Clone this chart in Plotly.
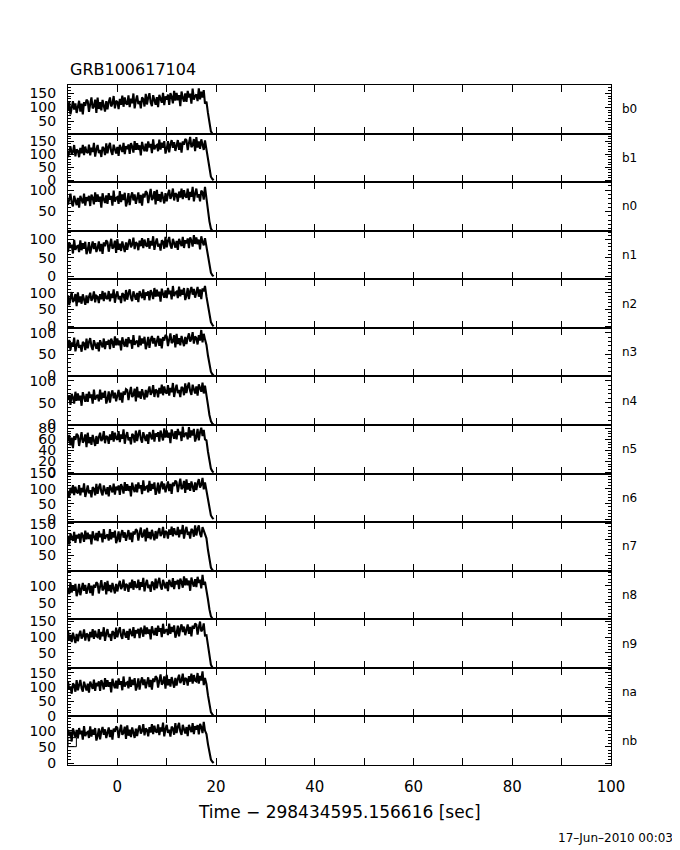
import numpy as np
import plotly.graph_objects as go
from plotly.subplots import make_subplots

# ---------------- data ----------------
detectors = ["b0", "b1", "n0", "n1", "n2", "n3", "n4", "n5", "n6", "n7", "n8", "n9", "na", "nb"]

# time bins (s, relative to trigger) for the flat part, then the end-of-data drop
t_main = np.round(np.arange(-10, 17.9, 0.25), 2)
t_drop = [18.05, 18.35, 18.65, 18.95, 19.25, 19.5]

b0 = [88, 118, 75, 106, 122, 92, 114, 80,
      98, 123, 85, 113, 75, 118, 105, 127,
      122, 84, 111, 135, 96, 103, 127, 80,
      134, 94, 118, 89, 126, 107, 85, 122,
      93, 119, 135, 103, 113, 140, 96, 123,
      119, 94, 130, 109, 141, 102, 135, 114,
      110, 142, 101, 131, 114, 149, 96, 124,
      142, 111, 123, 96, 135, 129, 103, 148,
      110, 135, 150, 117, 104, 143, 127, 109,
      136, 101, 144, 132, 116, 151, 108, 139,
      127, 145, 109, 150, 137, 114, 158, 124,
      151, 125, 143, 104, 156, 134, 120, 149,
      119, 158, 135, 148, 113, 166, 127, 140,
      146, 122, 167, 128, 155, 135, 161, 113]
b1 = [89, 115, 131, 99, 109, 136, 92, 119,
      114, 89, 125, 104, 136, 97, 130, 109,
      105, 137, 96, 126, 109, 144, 91, 119,
      136, 105, 117, 90, 129, 123, 97, 142,
      104, 129, 144, 111, 98, 137, 121, 103,
      129, 94, 137, 125, 109, 144, 101, 132,
      120, 138, 102, 143, 130, 107, 151, 117,
      143, 117, 135, 96, 148, 126, 112, 141,
      111, 150, 127, 140, 105, 158, 119, 132,
      136, 112, 157, 118, 145, 125, 151, 103,
      121, 151, 108, 139, 155, 125, 147, 113,
      130, 155, 117, 145, 107, 150, 137, 159,
      154, 116, 143, 167, 128, 135, 159, 112,
      166, 126, 150, 121, 158, 139, 117, 154]
n0 = [66, 82, 92, 70, 62, 87, 77, 65,
      82, 59, 87, 79, 69, 92, 64, 84,
      75, 87, 63, 90, 82, 67, 95, 73,
      90, 73, 85, 59, 93, 79, 70, 88,
      68, 93, 78, 87, 64, 99, 73, 82,
      84, 68, 98, 72, 90, 77, 94, 62,
      73, 93, 65, 85, 95, 76, 90, 68,
      79, 95, 70, 89, 64, 92, 83, 98,
      94, 70, 87, 103, 77, 82, 98, 67,
      101, 75, 91, 72, 96, 84, 69, 93,
      74, 91, 101, 80, 87, 104, 76, 93,
      90, 73, 97, 83, 104, 79, 100, 86,
      83, 104, 77, 96, 85, 108, 74, 92,
      104, 83, 91, 74, 99, 95, 78, 108]
n1 = [66, 93, 77, 86, 62, 99, 72, 81,
      83, 66, 98, 71, 90, 75, 94, 60,
      72, 93, 62, 84, 95, 74, 90, 66,
      77, 95, 68, 88, 61, 92, 82, 98,
      93, 67, 86, 102, 75, 80, 97, 64,
      101, 72, 89, 69, 95, 82, 66, 92,
      72, 90, 101, 79, 86, 105, 74, 93,
      89, 71, 97, 82, 104, 77, 100, 85,
      81, 104, 75, 96, 84, 109, 72, 91,
      103, 81, 89, 70, 98, 94, 75, 107,
      79, 97, 107, 84, 75, 102, 91, 78,
      96, 72, 102, 94, 82, 107, 77, 98,
      90, 103, 77, 106, 97, 81, 112, 88,
      106, 87, 100, 73, 109, 94, 84, 104]
n2 = [92, 63, 84, 102, 72, 78, 96, 60,
      101, 71, 89, 67, 95, 80, 64, 92,
      69, 88, 100, 76, 84, 104, 71, 91,
      88, 69, 96, 80, 105, 75, 100, 84,
      81, 105, 74, 97, 84, 110, 70, 92,
      104, 80, 90, 69, 99, 94, 74, 108,
      79, 98, 110, 85, 75, 104, 92, 79,
      99, 72, 105, 96, 84, 110, 78, 101,
      91, 104, 77, 108, 98, 81, 114, 88,
      109, 89, 103, 73, 112, 96, 85, 107,
      84, 114, 96, 106, 80, 120, 90, 100,
      103, 84, 118, 89, 109, 94, 114, 78,
      91, 114, 81, 105, 117, 94, 111, 85,
      98, 117, 88, 110, 81, 113, 104, 120]
n3 = [65, 84, 60, 78, 68, 89, 57, 74,
      84, 65, 72, 56, 79, 76, 60, 87,
      64, 79, 88, 68, 60, 83, 74, 63,
      78, 57, 83, 76, 66, 87, 62, 80,
      73, 84, 62, 87, 79, 65, 92, 71,
      87, 71, 82, 59, 90, 77, 68, 86,
      67, 90, 76, 84, 63, 95, 72, 79,
      82, 67, 94, 71, 87, 75, 91, 62,
      73, 91, 65, 84, 93, 75, 88, 68,
      78, 93, 70, 87, 64, 90, 82, 95,
      92, 69, 85, 99, 76, 80, 95, 66,
      98, 74, 88, 71, 93, 82, 69, 91,
      74, 89, 99, 80, 86, 102, 75, 92,
      88, 73, 95, 82, 107, 78, 98, 85]
n4 = [56, 67, 45, 70, 62, 48, 75, 54,
      71, 55, 66, 43, 74, 61, 52, 70,
      52, 75, 61, 69, 48, 80, 57, 64,
      68, 53, 80, 57, 73, 61, 77, 48,
      58, 76, 50, 69, 78, 60, 73, 53,
      64, 79, 56, 73, 50, 76, 68, 81,
      79, 56, 72, 86, 63, 67, 82, 53,
      86, 62, 76, 59, 81, 70, 57, 79,
      62, 77, 87, 68, 74, 90, 63, 80,
      77, 62, 84, 71, 91, 67, 87, 74,
      71, 90, 66, 84, 74, 95, 63, 80,
      91, 72, 79, 63, 86, 83, 67, 94,
      72, 87, 96, 76, 68, 91, 82, 71,
      87, 66, 92, 85, 75, 96, 71, 89]
n5 = [56, 68, 49, 63, 44, 66, 59, 70,
      67, 48, 61, 73, 54, 58, 69, 46,
      72, 53, 64, 50, 68, 59, 48, 66,
      52, 64, 72, 57, 61, 75, 53, 66,
      64, 52, 69, 59, 75, 56, 72, 62,
      59, 75, 55, 69, 61, 78, 52, 66,
      73, 58, 64, 51, 70, 67, 54, 76,
      57, 69, 77, 61, 54, 73, 65, 57,
      69, 52, 73, 67, 60, 77, 56, 71,
      65, 73, 56, 76, 69, 58, 80, 63,
      76, 63, 72, 53, 78, 67, 61, 75,
      60, 79, 68, 74, 57, 83, 64, 70,
      72, 60, 82, 63, 76, 67, 79, 56,
      64, 79, 58, 73, 81, 66, 77, 60]
n6 = [93, 72, 103, 85, 112, 79, 107, 89,
      85, 112, 78, 103, 89, 118, 73, 97,
      111, 85, 95, 72, 105, 100, 78, 116,
      83, 104, 117, 89, 78, 111, 98, 82,
      105, 75, 111, 101, 88, 117, 81, 107,
      95, 111, 80, 115, 104, 84, 122, 93,
      115, 93, 109, 75, 120, 101, 89, 114,
      88, 121, 101, 112, 82, 128, 94, 105,
      108, 88, 126, 93, 116, 99, 121, 80,
      95, 120, 84, 110, 124, 98, 117, 88,
      103, 124, 92, 116, 83, 120, 109, 127,
      122, 89, 112, 133, 99, 105, 126, 86,
      131, 97, 118, 93, 124, 108, 90, 121,
      96, 118, 132, 104, 113, 136, 98, 121]
n7 = [112, 84, 119, 109, 96, 124, 90, 115,
      104, 118, 89, 122, 112, 93, 128, 101,
      122, 102, 116, 85, 126, 109, 98, 121,
      95, 127, 108, 119, 91, 133, 102, 112,
      116, 97, 133, 101, 123, 107, 128, 89,
      102, 126, 92, 117, 130, 106, 123, 96,
      110, 130, 100, 122, 92, 126, 116, 133,
      128, 97, 119, 138, 107, 113, 132, 94,
      137, 105, 124, 101, 131, 115, 98, 127,
      103, 124, 136, 111, 119, 140, 105, 127,
      123, 103, 132, 115, 141, 110, 136, 119,
      115, 140, 107, 131, 118, 146, 103, 126,
      140, 115, 125, 103, 134, 129, 109, 145,
      113, 133, 145, 118, 108, 139, 126, 112]
n8 = [95, 76, 110, 81, 101, 86, 106, 70,
      83, 106, 73, 97, 109, 86, 103, 77,
      89, 108, 79, 101, 72, 104, 95, 111,
      107, 78, 99, 117, 87, 93, 111, 75,
      115, 85, 103, 81, 109, 94, 78, 106,
      84, 103, 115, 91, 99, 119, 86, 106,
      102, 83, 110, 94, 119, 89, 114, 98,
      95, 119, 88, 111, 98, 124, 84, 106,
      118, 94, 104, 83, 113, 108, 88, 122,
      93, 112, 124, 99, 89, 118, 106, 93,
      112, 85, 118, 109, 97, 123, 91, 114,
      105, 118, 91, 122, 112, 95, 128, 102,
      122, 102, 116, 86, 125, 109, 98, 120,
      97, 127, 109, 119, 93, 133, 103, 113]
n9 = [120, 88, 107, 84, 114, 98, 81, 110,
      87, 108, 120, 95, 103, 124, 89, 111,
      107, 87, 116, 99, 125, 94, 120, 103,
      100, 125, 92, 116, 103, 131, 88, 111,
      125, 100, 110, 88, 119, 114, 94, 130,
      99, 119, 131, 104, 94, 125, 112, 98,
      119, 91, 126, 116, 103, 131, 97, 122,
      112, 126, 97, 130, 120, 101, 136, 109,
      130, 110, 124, 93, 134, 117, 106, 129,
      104, 136, 117, 128, 100, 142, 111, 121,
      125, 106, 142, 110, 132, 116, 137, 98,
      112, 136, 102, 127, 140, 116, 133, 106,
      120, 140, 110, 132, 102, 136, 126, 143,
      139, 108, 130, 149, 118, 124, 143, 105]
na = [119, 91, 102, 77, 113, 107, 84, 124,
      89, 112, 125, 96, 84, 119, 105, 88,
      112, 81, 119, 109, 94, 126, 87, 115,
      103, 120, 87, 124, 112, 92, 131, 101,
      124, 101, 117, 82, 129, 109, 96, 122,
      95, 130, 109, 121, 89, 137, 102, 114,
      117, 96, 136, 101, 126, 107, 131, 88,
      103, 130, 91, 119, 134, 107, 127, 96,
      111, 134, 100, 125, 91, 130, 118, 138,
      132, 98, 123, 144, 109, 115, 137, 95,
      143, 106, 128, 102, 135, 118, 98, 132,
      105, 128, 143, 114, 123, 147, 108, 132,
      128, 105, 138, 119, 147, 112, 142, 123,
      120, 149, 112, 139, 123, 155, 107, 132]
nb = [104, 84, 98, 67, 108, 91, 80, 103,
      77, 109, 90, 101, 73, 115, 84, 94,
      97, 78, 114, 82, 104, 88, 109, 70,
      84, 108, 74, 99, 112, 88, 105, 78,
      91, 111, 81, 103, 73, 107, 97, 114,
      109, 78, 100, 119, 88, 94, 113, 75,
      117, 85, 104, 81, 111, 95, 78, 107,
      84, 105, 117, 92, 100, 121, 86, 108,
      103, 83, 112, 95, 121, 90, 116, 99,
      95, 120, 87, 111, 98, 126, 83, 106,
      119, 94, 104, 82, 113, 108, 88, 124,
      93, 113, 125, 98, 88, 119, 106, 92,
      112, 84, 119, 109, 96, 124, 90, 115,
      104, 118, 89, 122, 112, 93, 128, 101]

drops = {
    "b0": [120, 80, 44, 15, 6, 0],
    "b1": [122, 80, 43, 14, 5, 0],
    "n0": [76, 50, 27, 10, 4, 0],
    "n1": [80, 53, 28, 10, 3, 0],
    "n2": [88, 58, 30, 12, 4, 0],
    "n3": [72, 47, 24, 9, 3, 0],
    "n4": [70, 45, 22, 8, 2, 0],
    "n5": [58, 38, 20, 7, 2, 0],
    "n6": [94, 62, 32, 12, 4, 0],
    "n7": [104, 68, 35, 12, 4, 0],
    "n8": [92, 61, 31, 11, 4, 0],
    "n9": [106, 70, 36, 13, 4, 0],
    "na": [110, 72, 37, 13, 5, 0],
    "nb": [90, 59, 30, 11, 4, 0],
}
series = {"b0": b0, "b1": b1, "n0": n0, "n1": n1, "n2": n2, "n3": n3, "n4": n4,
          "n5": n5, "n6": n6, "n7": n7, "n8": n8, "n9": n9, "na": na, "nb": nb}

y_ranges = {
    "b0": [7, 179], "b1": [-7, 180], "n0": [5, 119], "n1": [-8, 124],
    "n2": [-5, 140], "n3": [-2, 112], "n4": [-1, 110], "n5": [-2, 86],
    "n6": [-10, 150], "n7": [2, 155], "n8": [2, 145], "n9": [3, 156],
    "na": [-2, 167], "nb": [-6, 145],
}
y_major = {"n5": 20}
x_ticks = list(range(-10, 101, 10))
x_labels = ["" if v % 20 or v < 0 else str(v) for v in x_ticks]

title_text = "GRB100617104"
x_title = "Time \u2212 298434595.156616 [sec]"
date_text = "17\u2013Jun\u20132010 00:03"

# ---------------- figure ----------------
FONT = "DejaVu Sans"
n = len(detectors)
fig = make_subplots(rows=n, cols=1, shared_xaxes=True, vertical_spacing=0)

for i, d in enumerate(detectors, start=1):
    xs = list(t_main) + t_drop
    ys = series[d] + drops[d]
    fig.add_trace(go.Scatter(x=xs, y=ys, mode="lines", line=dict(color="black", width=2.1),
                             showlegend=False, hoverinfo="skip"), row=i, col=1)
    maj = y_major.get(d, 50)
    mnr = 5 if d == "n5" else 10
    lo, hi = y_ranges[d]
    tv = [v for v in range(0, 201, maj) if lo <= v <= hi]
    fig.update_yaxes(row=i, col=1, range=[lo, hi], tickvals=tv, ticktext=[str(v) for v in tv],
                     ticks="inside", ticklen=6, tickcolor="black", tickwidth=1,
                     minor=dict(ticks="inside", ticklen=3, dtick=mnr, tick0=0, tickcolor="black"),
                     showline=True, linecolor="black", linewidth=1, mirror="ticks",
                     showgrid=False, zeroline=False, automargin=False,
                     tickfont=dict(family=FONT, size=14, color="black"), ticklabelstandoff=8)
    fig.update_xaxes(row=i, col=1, range=[-10, 100], tickvals=x_ticks, ticktext=x_labels,
                     ticks="inside", ticklen=7, tickcolor="black", tickwidth=1,
                     showline=True, linecolor="black", linewidth=1, mirror="ticks",
                     showgrid=False, zeroline=False, automargin=False,
                     tickfont=dict(family=FONT, size=15, color="black"), ticklabelstandoff=8)
    dom = fig.layout["yaxis" if i == 1 else f"yaxis{i}"].domain
    fig.add_annotation(xref="paper", yref="paper", x=1.0166, y=(dom[0] + dom[1]) / 2,
                       xanchor="left", yanchor="middle", text=d, showarrow=False,
                       font=dict(family=FONT, size=12, color="black"))

# small box drawn near the start of the last panel
fig.add_shape(type="rect", xref=f"x{n}", yref=f"y{n}", x0=-10, x1=-8.3, y0=51, y1=79,
              line=dict(color="black", width=1))

fig.add_annotation(xref="paper", yref="paper", x=0, y=1.0235, xanchor="left", yanchor="middle",
                   text=title_text, showarrow=False, font=dict(family=FONT, size=16, color="black"))
fig.add_annotation(xref="paper", yref="paper", x=0.5, y=-0.069, xanchor="center", yanchor="middle",
                   text=x_title, showarrow=False, font=dict(family=FONT, size=17, color="black"))
fig.add_annotation(xref="paper", yref="paper", x=1.117, y=-0.1074, xanchor="right", yanchor="middle",
                   text=date_text, showarrow=False, font=dict(family=FONT, size=12, color="black"))

# the page body adds an 8 px margin, so the figure is 8 px smaller than the window
fig.update_layout(width=672, height=842, margin=dict(l=60, r=69, t=77, b=85),
                  paper_bgcolor="white", plot_bgcolor="white", showlegend=False)

fig.write_html("out.html")
